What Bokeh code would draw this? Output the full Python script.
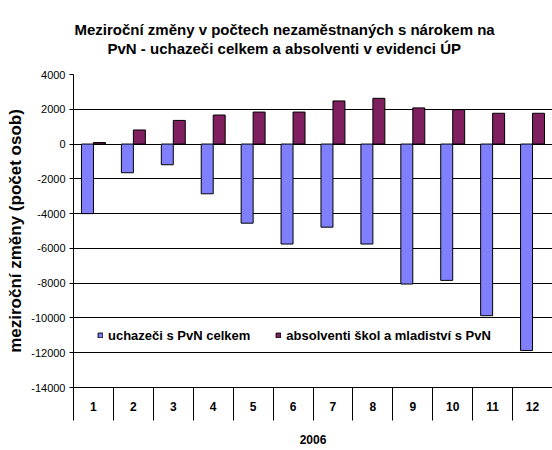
from bokeh.plotting import figure
from bokeh.models import ColumnDataSource, Range1d, FixedTicker, Title
from bokeh.transform import dodge
from bokeh.embed import file_html
from bokeh.resources import INLINE

months = [1, 2, 3, 4, 5, 6, 7, 8, 9, 10, 11, 12]
month_labels = ["1", "2", "3", "4", "5", "6", "7", "8", "9", "10", "11", "12"]
uchazeci = [-4000, -1650, -1190, -2860, -4550, -5750, -4780, -5750, -8050, -7840, -9870, -11870]
absolventi = [90, 810, 1360, 1670, 1840, 1840, 2480, 2630, 2080, 1980, 1770, 1770]
y_ticks = [4000, 2000, 0, -2000, -4000, -6000, -8000, -10000, -12000, -14000]
year_label = "2006"
series_names = ["uchazeči s PvN celkem", "absolventi škol a mladiství s PvN"]
title_line1 = "Meziroční změny v počtech nezaměstnaných s nárokem na"
title_line2 = "PvN - uchazeči celkem a absolventi v evidenci ÚP"
y_label = "meziroční změny (počet osob)"

FONT = "Liberation Sans"

src = ColumnDataSource(dict(month=months, uch=uchazeci, abs=absolventi))

p = figure(width=552, height=450, output_backend="svg", toolbar_location=None,
           x_range=Range1d(0.5, 12.5), y_range=Range1d(-14000, 4000),
           min_border_left=73, min_border_right=0, min_border_bottom=63, min_border_top=74)
p.outline_line_color = None
p.background_fill_color = "white"
p.border_fill_color = "white"
p.title = None

xa = p.below[0]
ya = p.left[0]

# blank spacer title between the frame and the two title lines (nearest to the frame)
p.add_layout(Title(text=" ", align="left", text_font=FONT, text_font_size="12px",
                   standoff=2), "above")
p.add_layout(Title(text=title_line2, align="left", offset=34, text_font=FONT,
                   text_font_size="15px", text_font_style="bold", text_color="black",
                   standoff=0), "above")
p.add_layout(Title(text=title_line1, align="left", offset=1, text_font=FONT,
                   text_font_size="15px", text_font_style="bold", text_color="black",
                   standoff=0), "above")

p.vbar(x=dodge("month", -0.15, range=p.x_range), top="uch", bottom=0, width=0.3,
       source=src, fill_color="#8080FF", line_color="black", line_width=1,
       legend_label=series_names[0])
p.vbar(x=dodge("month", 0.15, range=p.x_range), top="abs", bottom=0, width=0.3,
       source=src, fill_color="#7F1F5F", line_color="black", line_width=1,
       legend_label=series_names[1])

# x axis
xa.ticker = FixedTicker(ticks=months, minor_ticks=[m - 0.5 for m in months] + [months[-1] + 0.5])
xa.major_label_overrides = {m: lab for m, lab in zip(months, month_labels)}
xa.major_tick_out = 0
xa.major_tick_in = 0
xa.minor_tick_out = 33
xa.minor_tick_in = 0
xa.minor_tick_line_color = "black"
xa.axis_line_color = "black"
xa.major_label_standoff = -19
xa.major_label_text_font = FONT
xa.major_label_text_font_style = "bold"
xa.major_label_text_font_size = "12px"
xa.major_label_text_color = "black"
xa.axis_label = year_label
xa.axis_label_standoff = 21
xa.axis_label_text_font = FONT
xa.axis_label_text_font_style = "bold"
xa.axis_label_text_font_size = "12px"
xa.axis_label_text_color = "black"

# y axis
ya.ticker = FixedTicker(ticks=y_ticks, minor_ticks=[])
ya.major_label_overrides = {v: str(v) for v in y_ticks}
ya.major_tick_out = 4
ya.major_tick_in = 0
ya.axis_line_color = "black"
ya.major_tick_line_color = "black"
ya.major_label_standoff = 4
ya.major_label_text_font = FONT
ya.major_label_text_font_size = "11px"
ya.major_label_text_color = "black"
ya.axis_label = y_label
ya.axis_label_standoff = 3
ya.axis_label_text_font = FONT
ya.axis_label_text_font_style = "bold"
ya.axis_label_text_font_size = "17px"
ya.axis_label_text_color = "black"

p.xgrid.visible = False
p.ygrid.grid_line_color = "black"
p.ygrid.grid_line_width = 1

lg = p.legend[0]
lg.orientation = "horizontal"
lg.location = (24, 44)
lg.margin = 0
lg.padding = 0
lg.spacing = 25
lg.glyph_width = 6
lg.glyph_height = 6
lg.label_standoff = 5
lg.label_height = 16
lg.label_text_font = FONT
lg.label_text_font_style = "bold"
lg.label_text_font_size = "13px"
lg.label_text_color = "black"
lg.border_line_color = None
lg.background_fill_alpha = 0

open("out.html", "w").write(file_html(p, INLINE))
